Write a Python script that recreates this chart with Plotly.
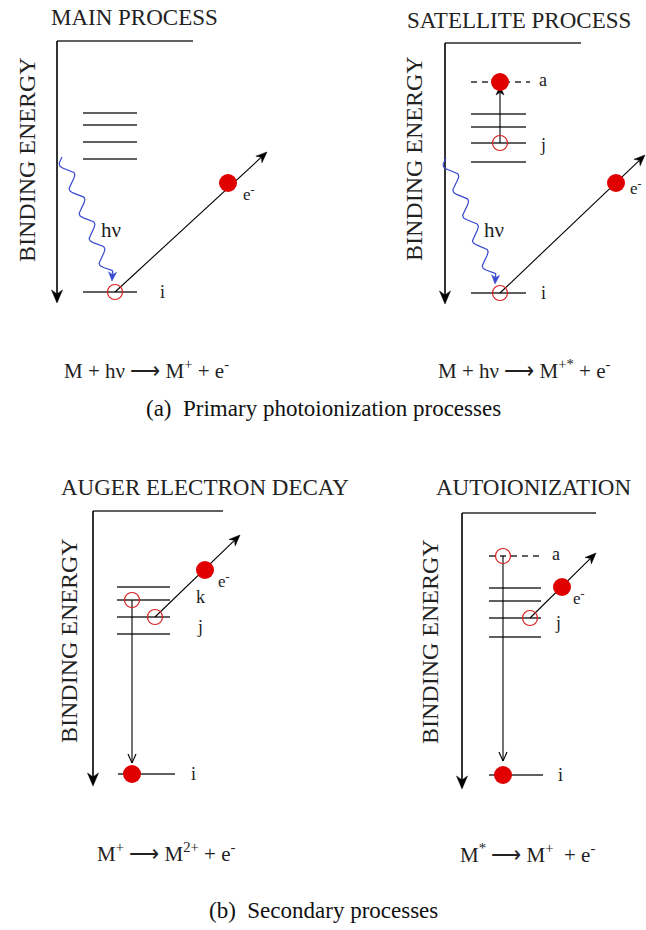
import numpy as np
import plotly.graph_objects as go

W, H = 646, 930
SERIF = "Liberation Serif, Times New Roman, serif"

# ---- panel headings and equations ----
TITLES = ["MAIN PROCESS", "SATELLITE PROCESS", "AUGER ELECTRON DECAY", "AUTOIONIZATION"]
TITLE_X = [134, 519, 205, 533]
TITLE_Y = [17, 20, 487, 487]

EQUATIONS = [
    "M + hν ⟶ M<sup>+</sup> + e<sup>-</sup>",
    "M + hν ⟶ M<sup>+*</sup> + e<sup>-</sup>",
    "M<sup>+</sup> ⟶ M<sup>2+</sup> + e<sup>-</sup>",
    "M<sup>*</sup> ⟶ M<sup>+</sup>  + e<sup>-</sup>",
]
EQ_X = [146, 524, 166, 527]
EQ_Y = [369, 369, 852, 853]

CAPTIONS = ["(a)  Primary photoionization processes", "(b)  Secondary processes"]
CAPTION_Y = [408, 910]

# ---- energy frames (binding energy axis + vacuum line) ----
AXIS_LABEL = "BINDING ENERGY"
FRAME_X = [57, 445, 93, 462]
FRAME_TOP = [41, 43, 511, 513]
FRAME_BOTTOM = [303, 304, 786, 789]
FRAME_RIGHT = [193, 581, 223, 596]
BE_LABEL_X = [27, 414, 69, 430]
BE_LABEL_Y = [160, 159, 641, 642]

# ---- bound valence levels ----
LEVEL_X0 = [83, 471, 117, 489]
LEVEL_X1 = [137, 526, 170, 541]
LEVELS_Y = [[113, 125, 142, 159], [114, 127, 143, 162],
            [587, 600, 617, 634], [588, 601, 618, 637]]

# ---- core level i ----
CORE_X0 = [83, 471, 118, 489]
CORE_X1 = [137, 526, 175, 543]
CORE_Y = [292, 293, 774, 775]
CORE_LABEL_X = [162, 543, 193, 560]

# ---- excited (dashed) level a ----
EXC_X0 = [471, 489]
EXC_X1 = [530, 543]
EXC_Y = [82, 556]
EXC_LABEL_X = [543, 556]

# ---- holes (open) and electrons (filled) ----
HOLE_X = [115, 500, 500, 132, 155, 503, 530]
HOLE_Y = [292, 143, 293, 600, 617, 556, 618]
ELEC_X = [228, 500, 616, 205, 132, 562, 503]
ELEC_Y = [183, 82, 183, 570, 774, 587, 775]

# ---- ejected-electron tracks: start -> arrow tip ----
EJECT_X0 = [115, 500, 155, 530]
EJECT_Y0 = [292, 293, 617, 618]
EJECT_X1 = [267, 645, 240, 596]
EJECT_Y1 = [152, 155, 535, 553]
ELABEL_X = [249, 636, 224, 579]
ELABEL_Y = [193, 187, 580, 597]

# ---- internal transitions: start -> arrow tip ----
TRANS_X = [500, 132, 503]
TRANS_Y0 = [143, 600, 556]
TRANS_Y1 = [86, 763, 761]
TRANS_OPEN_HEAD = [False, True, True]

# ---- other level labels ----
LETTERS = ["j", "k", "j", "j"]
LETTER_X = [543, 200, 200, 558]
LETTER_Y = [145, 597, 627, 623]

# ---- incoming photons ----
PHOTON_X0 = [62, 446]
PHOTON_Y0 = [157, 158]
PHOTON_X1 = [112, 495]
PHOTON_Y1 = [281, 284]
HNU_X = [111, 494]
HNU_Y = [230, 230]

INK = "#2b2b2b"
RED = "#e00000"
BLUE = "#3848d0"

fig = go.Figure()
shapes = []
ann = []


def line(x0, y0, x1, y1, color=INK, width=1.6, dash="solid"):
    shapes.append(dict(type="line", xref="x", yref="y", x0=x0, y0=y0, x1=x1, y1=y1,
                       line=dict(color=color, width=width, dash=dash), layer="below"))


def arrow(x0, y0, x1, y1, color="black", width=1.3, head_len=11, head_w=4.5, open_head=False):
    """Straight shaft with a notched filled head (or an open V) at (x1, y1)."""
    dx, dy = x1 - x0, y1 - y0
    L = np.hypot(dx, dy)
    ux, uy = dx / L, dy / L
    nx, ny = -uy, ux
    bx, by = x1 - head_len * ux, y1 - head_len * uy
    if open_head:
        line(x0, y0, x1, y1, color=color, width=width)
        line(bx + head_w * nx, by + head_w * ny, x1, y1, color=color, width=width)
        line(bx - head_w * nx, by - head_w * ny, x1, y1, color=color, width=width)
        return
    kx, ky = x1 - 0.7 * head_len * ux, y1 - 0.7 * head_len * uy
    line(x0, y0, kx, ky, color=color, width=width)
    path = (f"M{x1},{y1} L{bx + head_w * nx},{by + head_w * ny} L{kx},{ky} "
            f"L{bx - head_w * nx},{by - head_w * ny} Z")
    shapes.append(dict(type="path", xref="x", yref="y", path=path, fillcolor=color,
                       line=dict(color=color, width=0.5), layer="below"))


def label(x, y, text, size=18, angle=0, family=SERIF, color="#222"):
    ann.append(dict(x=x, y=y, xref="x", yref="y", text=text, showarrow=False,
                    textangle=angle, xanchor="center", yanchor="middle",
                    font=dict(family=family, size=size, color=color)))


# frames
for k in range(4):
    line(FRAME_X[k], FRAME_TOP[k], FRAME_RIGHT[k], FRAME_TOP[k])
    arrow(FRAME_X[k], FRAME_TOP[k], FRAME_X[k], FRAME_BOTTOM[k], color="black",
          width=1.6, head_len=13, head_w=5.5)
    label(BE_LABEL_X[k], BE_LABEL_Y[k], AXIS_LABEL, size=24, angle=-90)
    label(TITLE_X[k], TITLE_Y[k], TITLES[k], size=23)
    label(EQ_X[k], EQ_Y[k], EQUATIONS[k], size=21)

# valence levels and core level
for k in range(4):
    for y in LEVELS_Y[k]:
        line(LEVEL_X0[k], y, LEVEL_X1[k], y)
    line(CORE_X0[k], CORE_Y[k], CORE_X1[k], CORE_Y[k])
    label(CORE_LABEL_X[k], CORE_Y[k], "i", size=18)

# dashed excited level
for k in range(2):
    line(EXC_X0[k], EXC_Y[k], EXC_X1[k], EXC_Y[k], dash="6px,5px")
    label(EXC_LABEL_X[k], EXC_Y[k] - 2, "a", size=18)

for t, x, y in zip(LETTERS, LETTER_X, LETTER_Y):
    label(x, y, t, size=18)

# ejected electrons
for k in range(4):
    arrow(EJECT_X0[k], EJECT_Y0[k], EJECT_X1[k], EJECT_Y1[k], width=1.1)
    label(ELABEL_X[k], ELABEL_Y[k], "e<sup>-</sup>", size=17)

# internal transitions
for k in range(3):
    arrow(TRANS_X[k], TRANS_Y0[k], TRANS_X[k], TRANS_Y1[k], width=1.1,
          head_len=9, head_w=4, open_head=TRANS_OPEN_HEAD[k])

# photon wavy lines
for k in range(2):
    x0, y0, x1, y1 = PHOTON_X0[k], PHOTON_Y0[k], PHOTON_X1[k], PHOTON_Y1[k]
    dx, dy = x1 - x0, y1 - y0
    L = np.hypot(dx, dy)
    ux, uy = dx / L, dy / L
    nx, ny = -uy, ux
    t = np.linspace(0, 0.93, 300)
    amp = 5.5 * np.sin(2 * np.pi * 5.0 * t)
    wx = x0 + dx * t + nx * amp
    wy = y0 + dy * t + ny * amp
    fig.add_trace(go.Scatter(x=wx, y=wy, mode="lines", hoverinfo="skip",
                             line=dict(color=BLUE, width=1.2), showlegend=False))
    arrow(wx[-1], wy[-1], x1, y1, color=BLUE, width=1.3, head_len=9, head_w=4)
    label(HNU_X[k], HNU_Y[k], "hν", size=21)

# electrons and holes
fig.add_trace(go.Scatter(x=ELEC_X, y=ELEC_Y, mode="markers", hoverinfo="skip", showlegend=False,
                         marker=dict(symbol="circle", size=18, color=RED, line=dict(width=0))))
fig.add_trace(go.Scatter(x=HOLE_X, y=HOLE_Y, mode="markers", hoverinfo="skip", showlegend=False,
                         marker=dict(symbol="circle-open", size=15, color="#d42020",
                                     line=dict(width=1.2, color="#d42020"))))

for cap, y in zip(CAPTIONS, CAPTION_Y):
    label(W / 2, y, cap, size=23, family=SERIF, color="#111")

fig.update_layout(
    width=W, height=H, margin=dict(l=0, r=0, t=0, b=0),
    font=dict(family=SERIF, size=18, color="#222"),
    paper_bgcolor="white", plot_bgcolor="white",
    xaxis=dict(range=[0, W], visible=False, fixedrange=True),
    yaxis=dict(range=[H, 0], visible=False, fixedrange=True),
    shapes=shapes, annotations=ann, showlegend=False,
)

fig.write_html("out.html", config={"displayModeBar": False})
